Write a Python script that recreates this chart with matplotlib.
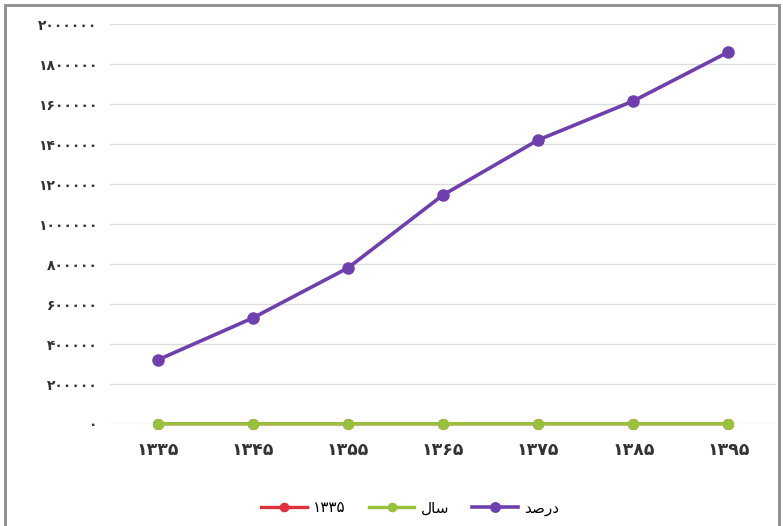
import matplotlib
matplotlib.use("Agg")
import matplotlib.pyplot as plt
from matplotlib.patches import Rectangle

categories = ["۱۳۳۵", "۱۳۴۵", "۱۳۵۵", "۱۳۶۵", "۱۳۷۵", "۱۳۸۵", "۱۳۹۵"]
percent_values = [320000, 530000, 780000, 1145000, 1420000, 1615000, 1860000]
year_values = [1335, 1345, 1355, 1365, 1375, 1385, 1395]
red_values = [1335, 1345, 1355, 1365, 1375, 1385, 1395]
y_ticks = [0, 200000, 400000, 600000, 800000, 1000000, 1200000, 1400000, 1600000, 1800000, 2000000]
y_tick_labels = ["۰", "۲۰۰۰۰۰", "۴۰۰۰۰۰", "۶۰۰۰۰۰", "۸۰۰۰۰۰", "۱۰۰۰۰۰۰",
                 "۱۲۰۰۰۰۰", "۱۴۰۰۰۰۰", "۱۶۰۰۰۰۰", "۱۸۰۰۰۰۰", "۲۰۰۰۰۰۰"]
# Legend labels (Persian, shaped with presentation forms for display)
label_red = "۱۳۳۵"
label_green = "\uFEDD\uFE8E\uFEB3"       # سال
label_purple = "\uFEAA\uFEBB\uFEAD\uFEA9"  # درصد

plt.rcParams['font.family'] = ['DejaVu Sans']

fig = plt.figure(figsize=(7.83, 5.26), dpi=100)
ax = fig.add_axes([110/783, (526-424)/526, (776-110)/783, 400/526])

x = list(range(len(categories)))
ax.plot(x, red_values, color="#e0303c", lw=2.4, marker="o", ms=7, clip_on=False, zorder=3, label=label_red)
ax.plot(x, year_values, color="#96c23c", lw=2.4, marker="o", ms=7, clip_on=False, zorder=4, label=label_green)
ax.plot(x, percent_values, color="#6f3fae", lw=2.6, marker="o", ms=8, clip_on=False, zorder=5, label=label_purple)

ax.set_xlim(-0.5, len(categories) - 0.5)
ax.set_ylim(0, 2000000)
ax.set_yticks(y_ticks)
ax.set_yticklabels(y_tick_labels, fontsize=10, fontweight="bold", color="#333333")
ax.set_xticks(x)
ax.set_xticklabels(categories, fontsize=12.5, fontweight="bold", color="#333333")
ax.tick_params(axis="both", length=0)
ax.tick_params(axis="y", pad=9)
ax.tick_params(axis="x", pad=12)
ax.grid(axis="y", color="#dcdcdc", lw=1)
ax.set_axisbelow(True)
for s in ax.spines.values():
    s.set_visible(False)

leg = fig.legend(loc="center", bbox_to_anchor=(410/783, (526-508)/526), ncol=3, frameon=False,
                 fontsize=11, handlelength=3, columnspacing=1.5, handletextpad=0.4, markerscale=0.85)

fig.patches.append(Rectangle((5/783, -0.01), (779-5)/783, (526-5)/526 + 0.01, transform=fig.transFigure,
                             fill=False, edgecolor="#8c8c8c", lw=2))

fig.savefig("out.png", dpi=100)
